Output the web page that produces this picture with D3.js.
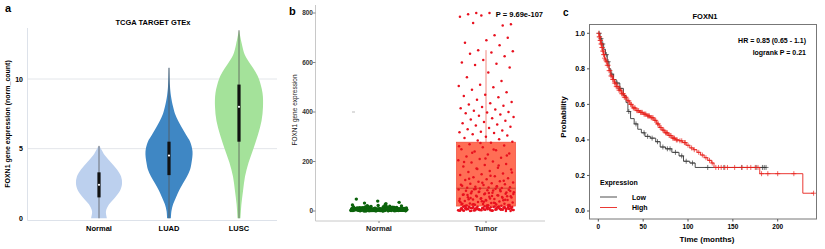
<!DOCTYPE html>
<html>
<head>
<meta charset="utf-8">
<script src="https://cdn.jsdelivr.net/npm/d3@7"></script>
<style>
  body { margin: 0; background: #fff; }
  text { font-family: "Liberation Sans", Arial, sans-serif; }
</style>
</head>
<body>
<div id="fig"></div>
<script>
// ---- panel a data (violins) ----
const violinCats = ["Normal", "LUAD", "LUSC"];
const violinColors = ["#bcd0ee", "#3f87c4", "#a4e29a"];
// [value, relative density]
const normalDensity = [[0,0.33],[0.5,0.29],[1,0.42],[1.5,0.67],[2,0.88],[2.5,0.96],[3,0.92],[3.5,0.75],[4,0.5],[4.5,0.25],[5,0.08],[5.2,0]];
const luadDensity = [[0,0.08],[0.5,0.1],[1,0.17],[1.5,0.29],[2,0.42],[2.5,0.58],[3,0.75],[3.5,0.88],[4,0.94],[4.8,0.98],[5.5,0.88],[6,0.71],[6.5,0.54],[7,0.38],[7.5,0.25],[8,0.17],[8.8,0.08],[9.5,0.04],[10.8,0.01]];
const luscDensity = [[0,0.06],[1,0.1],[2,0.17],[3,0.25],[4,0.4],[5,0.6],[6,0.79],[7,0.94],[8,1.0],[9,0.98],[10,0.83],[10.5,0.69],[11,0.5],[11.7,0.25],[12.5,0.12],[13.5,0]];
// [min, q1, median, q3, max]
const violinStats = [[0,1.5,2.4,3.3,5.2],[0,3.1,4.5,5.5,10.8],[0,5.5,8.0,9.6,13.5]];
const violinTicks = [0, 5, 10];

// ---- panel b data (box + jitter) ----
const boxCats = ["Normal", "Tumor"];
const boxTicks = [0, 200, 400, 600, 800];
const tumorBox = [20, 92, 278, 650]; // q1, median, q3, upper whisker
const normalValues = [2,5,3,8,4,6,10,3,7,1,12,4,9,2,6,15,3,8,5,11,2,7,4,13,6,1,9,3,18,5,8,2,14,6,4,10,3,7,22,5,
  2,9,4,16,6,3,11,8,2,5,20,7,4,12,3,6,25,9,2,5,8,4,14,3,7,10,6,2,24,5,
  4,9,3,12,6,8,2,17,5,7,3,11,4,6,9,2,13,5,8,3,30,32,35,40,48,6,4,10,7,3,
  2,5,8,12,4,6,9,3,15,7,5,2,11,4,8,6,19,3,10,5,
  1,4,7,10,13,16,3,6,9,12,2,5,8,11,14,1,4,7,21,3,
  6,9,12,2,5,8,0,3,6,9,15,1,4,7,10,2,5,8,11,0,
  3,6,9,12,18,1,4,7,10,2,5,8,13,3,6,9,1,4,7,20,
  2,5,8,11,3,6,9,0,4,7,10,16,1,5,8,2,6,9,3,12];
const normalOutlier = [400];
const tumorValues = [800,755,800,795,750,790,785,710,760,700,690,680,670,650,645,640,635,625,610,600,
  595,590,580,560,540,525,510,505,500,490,480,470,465,460,450,440,435,430,425,420,
  415,410,405,400,398,395,390,385,380,375,370,365,360,355,350,345,340,335,330,325,
  320,318,315,310,305,300,295,290,285,280,
  276,270,265,258,250,245,240,232,228,220,215,210,205,200,196,190,186,180,175,172,
  168,162,158,152,148,145,140,136,132,128,125,120,118,115,112,110,108,105,102,100,
  98,96,95,94,93,275,262,248,235,224,212,198,184,170,156,142,130,122,114,106,
  90,88,86,84,82,80,78,76,74,72,70,68,66,64,62,60,58,56,54,52,
  50,48,46,44,42,40,38,36,34,32,30,29,28,27,26,25,24,23,22,21,
  91,87,83,79,75,71,67,63,59,55,51,47,43,39,35,31,27,24,22,21,
  85,77,69,61,53,45,37,29,99,89,81,73,65,57,49,41,33,26,60,44,
  19,18,17,16,15,14,13,12,11,10,9,8,7,6,5,4,3,2,1,0,
  19,17,15,13,11,9,7,5,3,1,18,16,14,12,10,8,6,4,2,0,
  15,12,9,6,3,18,14,10,7,4,2,16,11,8,5,1,13,9,6,3,
  17,14,11,8,5,2,19,16,13,10,7,4,1,12,9,6,3,15,8,0];

// ---- panel c data (Kaplan-Meier) ----
const kmTicksX = [0, 50, 100, 150, 200];
const kmTicksY = [0, 0.2, 0.4, 0.6, 0.8, 1.0];
const lowTime = [0,2,4,6,8,10,12,14,17,20,24,28,31,33,36,40,44,48,52,58,64,69,75,82,90,95,102,108,187];
const lowSurv = [1.0,0.97,0.94,0.91,0.88,0.84,0.80,0.77,0.74,0.72,0.69,0.65,0.61,0.56,0.52,0.49,0.46,0.44,0.42,0.41,0.39,0.36,0.35,0.33,0.31,0.28,0.27,0.245,0.245];
const highTime = [0,1,2,3,4,5,6,7,8,9,10,12,14,16,18,20,23,26,29,32,35,38,42,46,50,54,58,62,65,68,71,74,78,82,86,90,94,98,102,106,110,114,118,122,126,129,180,228,240];
const highSurv = [1.0,0.98,0.96,0.94,0.92,0.90,0.88,0.86,0.85,0.84,0.82,0.79,0.76,0.74,0.72,0.70,0.68,0.66,0.64,0.62,0.60,0.58,0.565,0.555,0.545,0.535,0.525,0.51,0.49,0.47,0.455,0.44,0.425,0.41,0.40,0.395,0.385,0.37,0.355,0.345,0.33,0.315,0.30,0.285,0.27,0.245,0.21,0.10,0.10];
const lowCensor = [1,3,5,9,11,15,21,24,34,42,51,55,60,66,72,77,80,86,93,98,105,122,140,160,176,183,185,187];
const highCensor = [0.5,1,1.5,2,2.5,3,3.5,4,4.5,5,5.5,6,6.5,7,8,9,10,11,12,13,14,15,16,17,18,19,20,21,22,23,24,25,26,27,28,29,30,31,33,34,36,37,39,40,41,43,44,45,47,48,49,51,52,53,55,56,57,59,60,61,63,64,66,67,69,70,72,73,75,76,77,79,80,81,83,84,85,87,88,91,93,96,97,100,104,107,112,116,120,124,127,131,134,137,141,144,152,160,166,170,175,178,182,189,200,218,240];

const svg = d3.select("#fig").append("svg").attr("width", 825).attr("height", 249);
svg.append("rect").attr("width", 825).attr("height", 249).attr("fill", "#fff");

function panelA() {
    const g = svg.append("g");
    const y = d3.scaleLinear().domain([0, 10]).range([218.3, 79]);
    const x = d3.scalePoint().domain(violinCats).range([99, 239]);
    const w = d3.scaleLinear().domain([0, 1]).range([0, 24]);

    g.append("text").attr("x", 5).attr("y", 12).attr("font-size", 11).attr("font-weight", "bold").text("a");
    g.append("text").attr("x", 153).attr("y", 25).attr("text-anchor", "middle")
        .attr("font-size", 7.5).attr("font-weight", "bold").text("TCGA TARGET GTEx");

    // grid
    g.selectAll(".grid").data([5, 10]).enter().append("line")
        .attr("x1", 28).attr("x2", 277).attr("y1", d => y(d)).attr("y2", d => y(d))
        .attr("stroke", "#e3e6ea").attr("stroke-width", 1);
    g.append("line").attr("x1", 27.5).attr("x2", 27.5).attr("y1", 28).attr("y2", 220.5).attr("stroke", "#dde2ea");
    g.append("line").attr("x1", 27.5).attr("x2", 277).attr("y1", 220.5).attr("y2", 220.5).attr("stroke", "#dde2ea");

    g.selectAll(".yt").data(violinTicks).enter().append("text")
        .attr("x", 23).attr("y", d => y(d) + 2.5).attr("text-anchor", "end")
        .attr("font-size", 7).attr("font-weight", "bold").text(d => d);
    g.selectAll(".xt").data(violinCats).enter().append("text")
        .attr("x", d => x(d)).attr("y", 231).attr("text-anchor", "middle")
        .attr("font-size", 7.5).attr("font-weight", "bold").text(d => d);
    g.append("text").attr("transform", "translate(10,124) rotate(-90)").attr("text-anchor", "middle")
        .attr("font-size", 7).attr("font-weight", "bold").text("FOXN1 gene expression (norm_count)");

    const dens = [normalDensity, luadDensity, luscDensity];
    violinCats.forEach(function(c, i) {
        const cx = x(c);
        const area = d3.area().curve(d3.curveCatmullRom)
            .y(d => y(d[0])).x0(d => cx - w(d[1])).x1(d => cx + w(d[1]));
        g.append("path").attr("d", area(dens[i])).attr("fill", violinColors[i]).attr("stroke", "none");
        const s = violinStats[i];
        g.append("line").attr("x1", cx).attr("x2", cx).attr("y1", y(s[0])).attr("y2", y(s[4]))
            .attr("stroke", "#555").attr("stroke-width", 0.8);
        g.append("rect").attr("x", cx - 1.6).attr("width", 3.2).attr("y", y(s[3])).attr("height", y(s[1]) - y(s[3]))
            .attr("fill", "#111");
        g.append("circle").attr("cx", cx).attr("cy", y(s[2])).attr("r", 1.1).attr("fill", "#fff");
    });
}

function panelB() {
    const g = svg.append("g");
    const y = d3.scaleLinear().domain([0, 800]).range([211, 13]);
    const x = d3.scalePoint().domain(boxCats).range([379, 486]);
    const jitterW = 56;
    const jit = i => ((i * 0.6180339887) % 1) - 0.5;

    g.append("text").attr("x", 289).attr("y", 15).attr("font-size", 11).attr("font-weight", "bold").text("b");

    g.append("line").attr("x1", 315.5).attr("x2", 315.5).attr("y1", 5).attr("y2", 221).attr("stroke", "#c8c8c8");
    g.append("line").attr("x1", 315.5).attr("x2", 545).attr("y1", 221).attr("y2", 221).attr("stroke", "#c8c8c8");
    g.selectAll(".yt").data(boxTicks).enter().append("text")
        .attr("x", 313).attr("y", d => y(d) + 2.3).attr("text-anchor", "end")
        .attr("font-size", 6.5).attr("font-weight", "bold").attr("fill", "#333").text(d => d);
    g.selectAll(".ytk").data(boxTicks).enter().append("line")
        .attr("x1", 312.5).attr("x2", 315.5).attr("y1", d => y(d)).attr("y2", d => y(d)).attr("stroke", "#888");
    g.selectAll(".xtk").data(boxCats).enter().append("line")
        .attr("x1", d => x(d)).attr("x2", d => x(d)).attr("y1", 221).attr("y2", 223).attr("stroke", "#888");
    g.selectAll(".xt").data(boxCats).enter().append("text")
        .attr("x", d => x(d)).attr("y", 231).attr("text-anchor", "middle")
        .attr("font-size", 7.5).attr("font-weight", "bold").attr("fill", "#222").text(d => d);
    g.append("text").attr("transform", "translate(297,110) rotate(-90)").attr("text-anchor", "middle")
        .attr("font-size", 6.5).attr("fill", "#222").text("FOXN1 gene expression");
    g.append("text").attr("x", 543).attr("y", 17).attr("text-anchor", "end")
        .attr("font-size", 7.5).attr("font-weight", "bold").text("P = 9.69e-107");

    // tumor box
    const tx = x("Tumor");
    g.append("line").attr("x1", tx).attr("x2", tx).attr("y1", y(tumorBox[2])).attr("y2", y(tumorBox[3]))
        .attr("stroke", "#f08a80").attr("stroke-width", 1);
    g.append("rect").attr("x", tx - 29.5).attr("width", 59).attr("y", y(tumorBox[2]))
        .attr("height", y(tumorBox[0]) - y(tumorBox[2]))
        .attr("fill", "#ff6e55").attr("stroke", "#f04a3a").attr("stroke-width", 0.7);
    g.append("line").attr("x1", tx - 29.5).attr("x2", tx + 29.5).attr("y1", y(tumorBox[1])).attr("y2", y(tumorBox[1]))
        .attr("stroke", "#c0392b").attr("stroke-width", 0.8);

    // points
    g.selectAll(".np").data(normalValues).enter().append("circle")
        .attr("cx", (d, i) => x("Normal") + jit(i) * jitterW).attr("cy", d => y(d))
        .attr("r", 1.7).attr("fill", "#0b630b");
    g.selectAll(".no").data(normalOutlier).enter().append("line")
        .attr("x1", 352).attr("x2", 355).attr("y1", d => y(d)).attr("y2", d => y(d)).attr("stroke", "#bbb");
    g.selectAll(".tp").data(tumorValues).enter().append("circle")
        .attr("cx", (d, i) => tx + jit(i + 7) * jitterW).attr("cy", d => y(d))
        .attr("r", 1.25).attr("fill", "#e8101e");
}

function panelC() {
    const g = svg.append("g");
    const x = d3.scaleLinear().domain([0, 200]).range([598.3, 777.7]);
    const y = d3.scaleLinear().domain([0, 1]).range([211, 33.3]);

    g.append("text").attr("x", 563).attr("y", 16).attr("font-size", 10).attr("font-weight", "bold").text("c");
    g.append("text").attr("x", 705).attr("y", 19).attr("text-anchor", "middle")
        .attr("font-size", 7.5).attr("font-weight", "bold").text("FOXN1");
    g.append("rect").attr("x", 589.5).attr("y", 24.5).attr("width", 227).attr("height", 194.5)
        .attr("fill", "none").attr("stroke", "#777").attr("stroke-width", 1);

    g.selectAll(".xtk").data(kmTicksX).enter().append("line")
        .attr("x1", d => x(d)).attr("x2", d => x(d)).attr("y1", 219).attr("y2", 221.5).attr("stroke", "#555");
    g.selectAll(".xt").data(kmTicksX).enter().append("text")
        .attr("x", d => x(d)).attr("y", 229).attr("text-anchor", "middle")
        .attr("font-size", 6.5).attr("font-weight", "bold").text(d => d);
    g.selectAll(".ytk").data(kmTicksY).enter().append("line")
        .attr("x1", 587).attr("x2", 589.5).attr("y1", d => y(d)).attr("y2", d => y(d)).attr("stroke", "#555");
    g.selectAll(".yt").data(kmTicksY).enter().append("text")
        .attr("x", 585).attr("y", d => y(d) + 2.3).attr("text-anchor", "end")
        .attr("font-size", 7).attr("font-weight", "bold").text(d => d.toFixed(1));
    g.append("text").attr("x", 707).attr("y", 242).attr("text-anchor", "middle")
        .attr("font-size", 8).attr("font-weight", "bold").text("Time (months)");
    g.append("text").attr("transform", "translate(566,117) rotate(-90)").attr("text-anchor", "middle")
        .attr("font-size", 8).attr("font-weight", "bold").text("Probability");

    g.append("text").attr("x", 806).attr("y", 43).attr("text-anchor", "end")
        .attr("font-size", 7).attr("font-weight", "bold").text("HR = 0.85 (0.65 - 1.1)");
    g.append("text").attr("x", 806).attr("y", 55).attr("text-anchor", "end")
        .attr("font-size", 7).attr("font-weight", "bold").text("logrank P = 0.21");

    const groups = [
        {t: lowTime, s: lowSurv, c: lowCensor, color: "#3a3a3a", name: "Low"},
        {t: highTime, s: highSurv, c: highCensor, color: "#e8231d", name: "High"}
    ];
    const line = d3.line().curve(d3.curveStepAfter).x(d => x(d[0])).y(d => y(d[1]));
    groups.forEach(function(gr) {
        const pts = gr.t.map((t, i) => [t, gr.s[i]]);
        g.append("path").attr("d", line(pts)).attr("fill", "none")
            .attr("stroke", gr.color).attr("stroke-width", 0.9);
        const survAt = function(t) {
            let v = gr.s[0];
            for (let i = 0; i < gr.t.length; i++) { if (gr.t[i] <= t) v = gr.s[i]; }
            return v;
        };
        const cg = g.append("g");
        gr.c.forEach(function(t) {
            const cx = x(t), cy = y(survAt(t));
            cg.append("line").attr("x1", cx).attr("x2", cx).attr("y1", cy - 2.5).attr("y2", cy + 2.5)
                .attr("stroke", gr.color).attr("stroke-width", 0.7);
            cg.append("line").attr("x1", cx - 2.5).attr("x2", cx + 2.5).attr("y1", cy).attr("y2", cy)
                .attr("stroke", gr.color).attr("stroke-width", 0.7);
        });
    });

    // legend
    g.append("text").attr("x", 600).attr("y", 185).attr("font-size", 7).attr("font-weight", "bold").text("Expression");
    groups.forEach(function(gr, i) {
        const ly = 197 + i * 10.5;
        g.append("line").attr("x1", 600).attr("x2", 617).attr("y1", ly).attr("y2", ly)
            .attr("stroke", gr.color).attr("stroke-width", 0.9);
        g.append("text").attr("x", 632).attr("y", ly + 2.5).attr("font-size", 7).attr("font-weight", "bold").text(gr.name);
    });
}

panelA();
panelB();
panelC();
</script>
</body>
</html>
